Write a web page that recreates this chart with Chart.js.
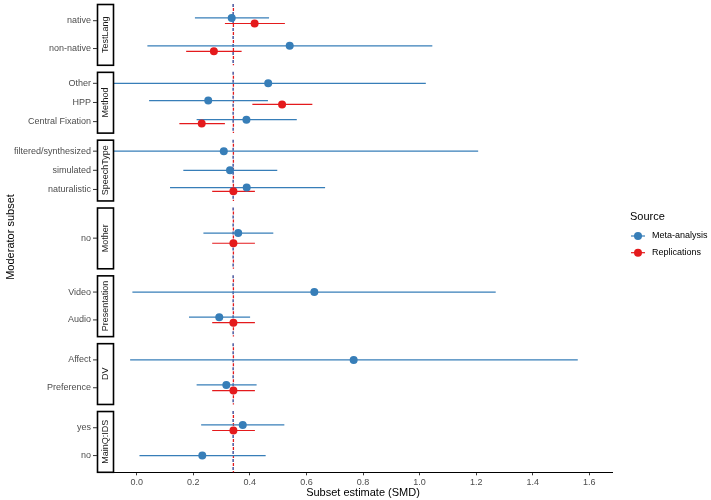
<!DOCTYPE html>
<html>
<head>
<meta charset="utf-8">
<script src="https://cdn.jsdelivr.net/npm/chart.js@4.4.1/dist/chart.umd.min.js"></script>
<style>
  html, body { margin: 0; padding: 0; background: #fff; }
</style>
</head>
<body>
<canvas id="forest" width="711" height="500"></canvas>
<script>
// facets top to bottom, each with its categories top to bottom
const facets = ['TestLang', 'Method', 'SpeechType', 'Mother', 'Presentation', 'DV', 'MainQ:IDS'];
const categories = [
  ['native', 'non-native'],
  ['Other', 'HPP', 'Central Fixation'],
  ['filtered/synthesized', 'simulated', 'naturalistic'],
  ['no'],
  ['Video', 'Audio'],
  ['Affect', 'Preference'],
  ['yes', 'no']
];

// Meta-analysis: estimate and 95% CI per category
const metaEst  = [[0.336, 0.541], [0.465, 0.253, 0.388], [0.308, 0.330, 0.389], [0.359], [0.628, 0.292], [0.767, 0.317], [0.375, 0.232]];
const metaLow  = [[0.206, 0.038], [-0.092, 0.044, 0.212], [-0.591, 0.165, 0.118], [0.236], [-0.015, 0.185], [-0.023, 0.212], [0.228, 0.010]];
const metaHigh = [[0.468, 1.045], [1.022, 0.464, 0.566], [1.207, 0.497, 0.666], [0.483], [1.269, 0.401], [1.559, 0.424], [0.522, 0.456]];

// Replications (null = no replication in that subset)
const repEst  = [[0.417, 0.273], [null, 0.514, 0.230], [null, null, 0.342], [0.342], [null, 0.342], [null, 0.342], [0.342, null]];
const repLow  = [[0.312, 0.175], [null, 0.409, 0.151], [null, null, 0.267], [0.267], [null, 0.267], [null, 0.267], [0.267, null]];
const repHigh = [[0.524, 0.371], [null, 0.621, 0.312], [null, null, 0.418], [0.418], [null, 0.418], [null, 0.418], [0.418, null]];

const overallMeta = 0.341;
const overallRep = 0.342;
const xTicks = [0, 0.2, 0.4, 0.6, 0.8, 1.0, 1.2, 1.4, 1.6];

const series = [
  { name: 'Meta-analysis', color: '#377EB8', est: metaEst, low: metaLow, high: metaHigh },
  { name: 'Replications', color: '#E41A1C', est: repEst, low: repLow, high: repHigh }
];

const FONT = 'Liberation Sans, Arial, sans-serif';
const PANEL_H = 61.6;
const GAP = 6.6;
const AXIS_W = 114;
const DODGE = 0.1;

// y position of a series within a facet, dodged when both series are present
function rowY(i, j, k) {
  const n = categories[i].length;
  const both = metaEst[i][j] != null && repEst[i][j] != null;
  if (!both) return n - j;
  return n - j + (k === 0 ? DODGE : -DODGE);
}

const scales = {
  x: {
    type: 'linear',
    position: 'bottom',
    min: -0.08,
    max: 1.68,
    afterBuildTicks: s => { s.ticks = xTicks.map(v => ({ value: v })); },
    afterFit: s => { s.height = 27.7; },
    grid: { drawOnChartArea: false, drawTicks: true, tickLength: 3, tickColor: '#333', tickWidth: 1 },
    border: { display: true, color: '#000', width: 1.1 },
    ticks: { font: { family: FONT, size: 9 }, color: '#4d4d4d', padding: 1.5, maxRotation: 0, autoSkip: false,
             callback: v => v.toFixed(1) },
    title: { display: true, text: 'Subset estimate (SMD)', font: { family: FONT, size: 11 }, color: '#000', padding: 0 }
  }
};

// stacked left axes are placed bottom-up in definition order, so add the last facet first
for (let i = facets.length - 1; i >= 0; i--) {
  const n = categories[i].length;
  const last = i === facets.length - 1;
  const gapUnits = last ? 0 : (n + 0.2) * GAP / PANEL_H;
  scales['y' + i] = {
    type: 'linear',
    position: 'left',
    stack: 'facets',
    stackWeight: last ? PANEL_H : PANEL_H + GAP,
    min: 0.4 - gapUnits,
    max: n + 0.6,
    afterBuildTicks: s => { s.ticks = categories[i].map((c, j) => ({ value: n - j })); },
    afterFit: s => {
      s.width = AXIS_W;
      // the big label padding must not push the chart area down
      s.paddingTop = 0;
      s.paddingBottom = 0;
    },
    grid: { display: false, drawTicks: false },
    border: { display: false },
    ticks: { font: { family: FONT, size: 9 }, color: '#4d4d4d', padding: 23, autoSkip: false,
             callback: v => categories[i][n - v] }
  };
}

const datasets = [];
series.forEach((s, k) => {
  facets.forEach((f, i) => {
    categories[i].forEach((c, j) => {
      if (s.est[i][j] == null) return;
      const y = rowY(i, j, k);
      datasets.push({
        type: 'scatter',
        label: s.name,
        yAxisID: 'y' + i,
        data: [{ x: s.low[i][j], y: y }, { x: s.high[i][j], y: y }],
        showLine: true,
        borderColor: s.color,
        borderWidth: 1.2,
        pointRadius: 0,
        order: 3 - k
      });
    });
    const pts = [];
    categories[i].forEach((c, j) => {
      if (s.est[i][j] != null) pts.push({ x: s.est[i][j], y: rowY(i, j, k) });
    });
    if (pts.length) {
      datasets.push({
        type: 'scatter',
        label: s.name,
        yAxisID: 'y' + i,
        data: pts,
        pointRadius: 4,
        pointBackgroundColor: s.color,
        pointBorderWidth: 0,
        order: 1 - k
      });
    }
  });
});

function panelBottom(s) {
  return s.getPixelForValue(0.4);
}

const facetDecor = {
  id: 'facetDecor',
  beforeDatasetsDraw(chart) {
    const ctx = chart.ctx;
    const x = chart.scales.x;
    ctx.save();
    ctx.lineWidth = 1.3;
    facets.forEach((f, i) => {
      const s = chart.scales['y' + i];
      const top = s.top, bot = panelBottom(s);
      // overall estimates: blue and red dashes alternating
      [[overallMeta, '#2f3f8f', 0], [overallRep, '#E41A1C', -4]].forEach(([v, col, off]) => {
        const px = x.getPixelForValue(v);
        ctx.strokeStyle = col;
        ctx.setLineDash([3, 5]);
        ctx.lineDashOffset = off;
        ctx.beginPath();
        ctx.moveTo(px, top);
        ctx.lineTo(px, bot);
        ctx.stroke();
      });
    });
    ctx.restore();
  },
  afterDraw(chart) {
    const ctx = chart.ctx;
    ctx.save();
    facets.forEach((f, i) => {
      const s = chart.scales['y' + i];
      const top = s.top, bot = panelBottom(s);
      // strip
      ctx.fillStyle = '#fff';
      ctx.fillRect(97, top, 16.5, bot - top);
      ctx.strokeStyle = '#000';
      ctx.lineWidth = 1.6;
      ctx.strokeRect(97.5, top + 0.5, 16, bot - top - 0.5);
      ctx.save();
      ctx.translate(105.5, (top + bot) / 2);
      ctx.rotate(-Math.PI / 2);
      ctx.fillStyle = '#1a1a1a';
      ctx.font = '9px ' + FONT;
      ctx.textAlign = 'center';
      ctx.textBaseline = 'middle';
      ctx.fillText(f, 0, 0);
      ctx.restore();
      // tick marks
      ctx.strokeStyle = '#333';
      ctx.lineWidth = 1;
      s.ticks.forEach(t => {
        const py = s.getPixelForValue(t.value);
        ctx.beginPath();
        ctx.moveTo(93, py);
        ctx.lineTo(97, py);
        ctx.stroke();
      });
    });
    // y axis title
    ctx.save();
    ctx.translate(11, 237);
    ctx.rotate(-Math.PI / 2);
    ctx.fillStyle = '#000';
    ctx.font = '11px ' + FONT;
    ctx.textAlign = 'center';
    ctx.textBaseline = 'middle';
    ctx.fillText('Moderator subset', 0, 0);
    ctx.restore();
    // legend
    ctx.fillStyle = '#000';
    ctx.font = '11px ' + FONT;
    ctx.textAlign = 'left';
    ctx.textBaseline = 'middle';
    ctx.fillText('Source', 630, 217);
    series.forEach((s, k) => {
      const y = 236 + k * 16.7;
      ctx.strokeStyle = s.color;
      ctx.lineWidth = 1.2;
      ctx.beginPath();
      ctx.moveTo(631, y);
      ctx.lineTo(645, y);
      ctx.stroke();
      ctx.fillStyle = s.color;
      ctx.beginPath();
      ctx.arc(638, y, 4, 0, Math.PI * 2);
      ctx.fill();
      ctx.fillStyle = '#000';
      ctx.font = '9px ' + FONT;
      ctx.fillText(s.name, 652, y);
    });
    ctx.restore();
  }
};

new Chart(document.getElementById('forest'), {
  type: 'scatter',
  data: { datasets: datasets },
  options: {
    responsive: false,
    animation: false,
    layout: { padding: { top: 1.5, right: 99, left: 0, bottom: 0 } },
    plugins: { legend: { display: false }, tooltip: { enabled: false } },
    scales: scales
  },
  plugins: [facetDecor]
});
</script>
</body>
</html>
